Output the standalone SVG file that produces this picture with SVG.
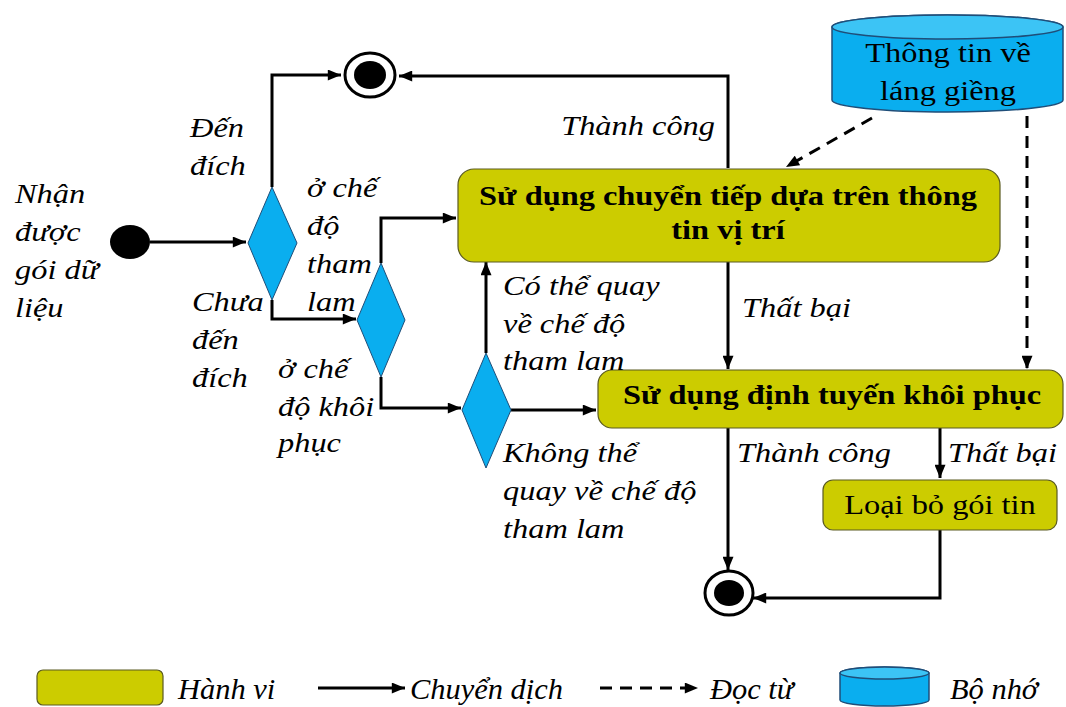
<svg xmlns="http://www.w3.org/2000/svg" width="1066" height="707" viewBox="0 0 1066 707">
<defs>
<marker id="arr" viewBox="0 0 12 10" refX="12" refY="5" markerWidth="14" markerHeight="11" markerUnits="userSpaceOnUse" orient="auto"><path d="M0,0 L12,5 L0,10 z" fill="#000"/></marker>
<style>
.ln{fill:none;stroke:#000;stroke-width:3}
.dash{fill:none;stroke:#000;stroke-width:3;stroke-dasharray:12 8}
.dia{fill:#0AAEEF;stroke:#1F4E79;stroke-width:1}
.box{fill:#CCCC00;stroke:#5A5A20;stroke-width:1.2}
.cyl{fill:#0AAEEF;stroke:#1F4E79;stroke-width:1.5}
.cyltop{fill:#3CC4F5;stroke:#1F4E79;stroke-width:1.5}
.lbl{font-family:"Liberation Serif",serif;font-style:italic;font-size:27px;fill:#000}
.lg{font-family:"Liberation Serif",serif;font-style:italic;font-size:29px;fill:#000}
.bt{font-family:"Liberation Serif",serif;font-weight:bold;font-size:27px;fill:#000;text-anchor:middle}
.nt{font-family:"Liberation Serif",serif;font-size:27px;fill:#000;text-anchor:middle}
</style>
</defs>
<rect width="1066" height="707" fill="#fff"/>

<g id="connectors">
<path class="ln" d="M150,242 H246" marker-end="url(#arr)"/>
<path class="ln" d="M272,187 V75 H341" marker-end="url(#arr)"/>
<path class="ln" d="M728,168 V76 H399" marker-end="url(#arr)"/>
<path class="ln" d="M272,300 V319 H356" marker-end="url(#arr)"/>
<path class="ln" d="M381,263 V218 H456" marker-end="url(#arr)"/>
<path class="ln" d="M381,377 V408 H461" marker-end="url(#arr)"/>
<path class="ln" d="M486,353 V262" marker-end="url(#arr)"/>
<path class="ln" d="M511,410 H596" marker-end="url(#arr)"/>
<path class="ln" d="M728,262 V369" marker-end="url(#arr)"/>
<path class="ln" d="M728,428 V570" marker-end="url(#arr)"/>
<path class="ln" d="M940,428 V478" marker-end="url(#arr)"/>
<path class="ln" d="M940,530 V598 H753" marker-end="url(#arr)"/>
<path class="dash" d="M872,118 L786,167" marker-end="url(#arr)"/>
<path class="dash" d="M1027,116 V369" marker-end="url(#arr)"/>
</g>

<g id="start"><ellipse cx="130" cy="242" rx="20" ry="17" fill="#000"/></g>
<g id="end-top"><ellipse cx="370" cy="75" rx="25" ry="22" fill="#fff" stroke="#000" stroke-width="3"/><ellipse cx="370" cy="75" rx="16" ry="14" fill="#000"/></g>
<g id="end-bottom"><ellipse cx="729" cy="593" rx="24" ry="22" fill="#fff" stroke="#000" stroke-width="3"/><ellipse cx="729" cy="593" rx="15" ry="13" fill="#000"/></g>

<g id="diamond1"><polygon class="dia" points="272,187 297,243 272,300 248,243"/></g>
<g id="diamond2"><polygon class="dia" points="381,263 405,320 381,377 357,320"/></g>
<g id="diamond3"><polygon class="dia" points="486,353 511,410 486,468 462,410"/></g>

<g id="box-greedy"><rect class="box" x="458" y="169" width="542" height="93" rx="16"/>
<text class="bt" transform="matrix(1.2 0 0 1 728 205)">Sử dụng chuyển tiếp dựa trên thông</text>
<text class="bt" transform="matrix(1.2 0 0 1 728 239)">tin vị trí</text></g>

<g id="box-recovery"><rect class="box" x="598" y="370" width="465" height="58" rx="14"/>
<text class="bt" transform="matrix(1.2 0 0 1 832 404)">Sử dụng định tuyến khôi phục</text></g>

<g id="box-drop"><rect class="box" x="823" y="480" width="234" height="50" rx="10"/>
<text class="nt" transform="matrix(1.2 0 0 1 940 514)">Loại bỏ gói tin</text></g>

<g id="neighbor-db">
<path class="cyl" d="M832,27 A115.5,12 0 0 1 1063,27 V100 A115.5,12 0 0 1 832,100 Z"/>
<ellipse class="cyltop" cx="947.5" cy="27" rx="115.5" ry="12"/>
<text class="nt" transform="matrix(1.2 0 0 1 948 62)">Thông tin về</text>
<text class="nt" transform="matrix(1.2 0 0 1 948 100)">láng giềng</text>
</g>

<g id="labels">
<text class="lbl" transform="matrix(1.2 0 0 1 15 203)">Nhận</text>
<text class="lbl" transform="matrix(1.2 0 0 1 15 241)">được</text>
<text class="lbl" transform="matrix(1.2 0 0 1 15 279)">gói dữ</text>
<text class="lbl" transform="matrix(1.2 0 0 1 15 317)">liệu</text>
<text class="lbl" transform="matrix(1.2 0 0 1 190 137)">Đến</text>
<text class="lbl" transform="matrix(1.2 0 0 1 190 175)">đích</text>
<text class="lbl" transform="matrix(1.2 0 0 1 192 311)">Chưa</text>
<text class="lbl" transform="matrix(1.2 0 0 1 192 349)">đến</text>
<text class="lbl" transform="matrix(1.2 0 0 1 192 387)">đích</text>
<text class="lbl" transform="matrix(1.2 0 0 1 307 197)">ở chế</text>
<text class="lbl" transform="matrix(1.2 0 0 1 307 235)">độ</text>
<text class="lbl" transform="matrix(1.2 0 0 1 307 273)">tham</text>
<text class="lbl" transform="matrix(1.2 0 0 1 307 311)">lam</text>
<text class="lbl" transform="matrix(1.2 0 0 1 278 378)">ở chế</text>
<text class="lbl" transform="matrix(1.2 0 0 1 278 416)">độ khôi</text>
<text class="lbl" transform="matrix(1.2 0 0 1 278 452)">phục</text>
<text class="lbl" transform="matrix(1.2 0 0 1 503 295)">Có thể quay</text>
<text class="lbl" transform="matrix(1.2 0 0 1 503 333)">về chế độ</text>
<text class="lbl" transform="matrix(1.2 0 0 1 503 370)">tham lam</text>
<text class="lbl" transform="matrix(1.2 0 0 1 503 462)">Không thể</text>
<text class="lbl" transform="matrix(1.2 0 0 1 503 500)">quay về chế độ</text>
<text class="lbl" transform="matrix(1.2 0 0 1 503 538)">tham lam</text>
<text class="lbl" text-anchor="end" transform="matrix(1.2 0 0 1 715 135)">Thành công</text>
<text class="lbl" transform="matrix(1.2 0 0 1 742 317)">Thất bại</text>
<text class="lbl" transform="matrix(1.2 0 0 1 737 462)">Thành công</text>
<text class="lbl" transform="matrix(1.2 0 0 1 948 462)">Thất bại</text>
</g>

<g id="legend">
<rect class="box" x="37" y="670" width="126" height="35" rx="6"/>
<text class="lg" transform="matrix(1.05 0 0 1 178 699)">Hành vi</text>
<path class="ln" d="M318,688 H405" marker-end="url(#arr)"/>
<text class="lg" transform="matrix(1.05 0 0 1 410 699)">Chuyển dịch</text>
<path class="dash" d="M600,688 H698" marker-end="url(#arr)"/>
<text class="lg" transform="matrix(1.05 0 0 1 710 699)">Đọc từ</text>
<path class="cyl" d="M840,673 A44.5,6 0 0 1 929,673 V700 A44.5,6 0 0 1 840,700 Z"/>
<ellipse class="cyltop" cx="884.5" cy="673" rx="44.5" ry="6"/>
<text class="lg" transform="matrix(1.05 0 0 1 950 699)">Bộ nhớ</text>
</g>
</svg>
